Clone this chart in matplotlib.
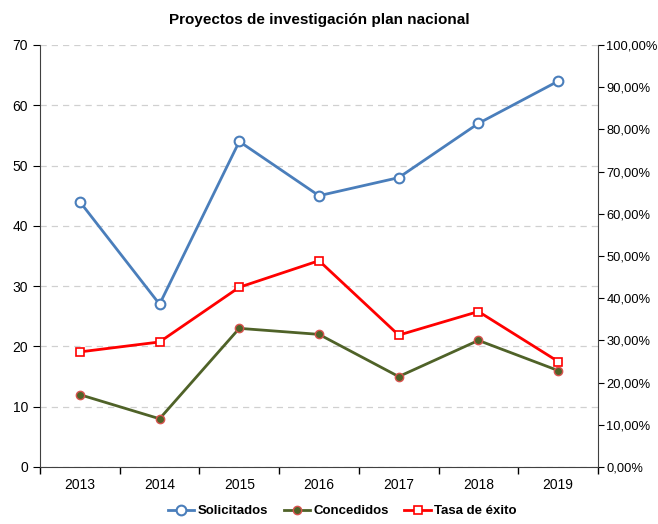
import matplotlib.pyplot as plt
from matplotlib.ticker import FuncFormatter, MultipleLocator

plt.rcParams['font.family'] = ['Liberation Sans', 'DejaVu Sans']

years = ['2013', '2014', '2015', '2016', '2017', '2018', '2019']
solicitados = [44, 27, 54, 45, 48, 57, 64]
concedidos = [12, 8, 23, 22, 15, 21, 16]
tasa = [c / s for c, s in zip(concedidos, solicitados)]

fig = plt.figure(figsize=(6.58, 5.24), dpi=100)
ax = fig.add_axes([40 / 658, 57 / 524, 558 / 658, 422 / 524])
ax2 = ax.twinx()

x = list(range(len(years)))
l1, = ax.plot(x, solicitados, color='#4A7EBB', lw=2, marker='o', ms=7,
              mfc='white', mec='#4A7EBB', mew=1.5, label='Solicitados')
l2, = ax.plot(x, concedidos, color='#4F6228', lw=2, marker='o', ms=6,
              mfc='#4F6228', mec='#D9534F', mew=1, label='Concedidos')
l3, = ax2.plot(x, tasa, color='#FF0000', lw=2, marker='s', ms=6,
               mfc='white', mec='#FF0000', mew=1.2, label='Tasa de éxito')

ax.set_xlim(-0.5, len(years) - 0.5)
ax.set_ylim(0, 70)
ax.yaxis.set_major_locator(MultipleLocator(10))
ax2.set_ylim(0, 1)
ax2.yaxis.set_major_locator(MultipleLocator(0.1))
ax2.yaxis.set_major_formatter(FuncFormatter(lambda v, p: f'{v * 100:.2f}%'.replace('.', ',')))

ax.set_xticks(x)
ax.set_xticklabels(years)
ax.set_xticks([i + 0.5 for i in range(-1, len(years))], minor=True)
ax.tick_params(axis='x', which='major', length=0, pad=8, labelsize=10)
ax.tick_params(axis='x', which='minor', length=5, width=1)
ax.tick_params(axis='y', length=5, labelsize=10)
ax2.tick_params(axis='y', length=4, pad=2, labelsize=9.3)

ax.grid(axis='y', color='#D0D0D0', ls=(0, (5, 4)), lw=0.9)
ax.set_axisbelow(True)
for a in (ax, ax2):
    a.spines['top'].set_visible(False)
ax2.spines['left'].set_visible(False)
ax2.spines['bottom'].set_visible(False)
ax.spines['right'].set_visible(False)
ax.spines['left'].set_color('#404040')
ax.spines['bottom'].set_color('#404040')
ax2.spines['right'].set_color('#404040')

ax.set_title('Proyectos de investigación plan nacional', fontsize=11,
             fontweight='bold', pad=15)

fig.legend(handles=[l1, l2, l3], loc='lower center', ncol=3, frameon=False,
           bbox_to_anchor=(0.52, -0.01), prop={'weight': 'bold', 'size': 9.5},
           handlelength=2.0, columnspacing=1.2, handletextpad=0.25)

fig.savefig('out.png', dpi=100)
